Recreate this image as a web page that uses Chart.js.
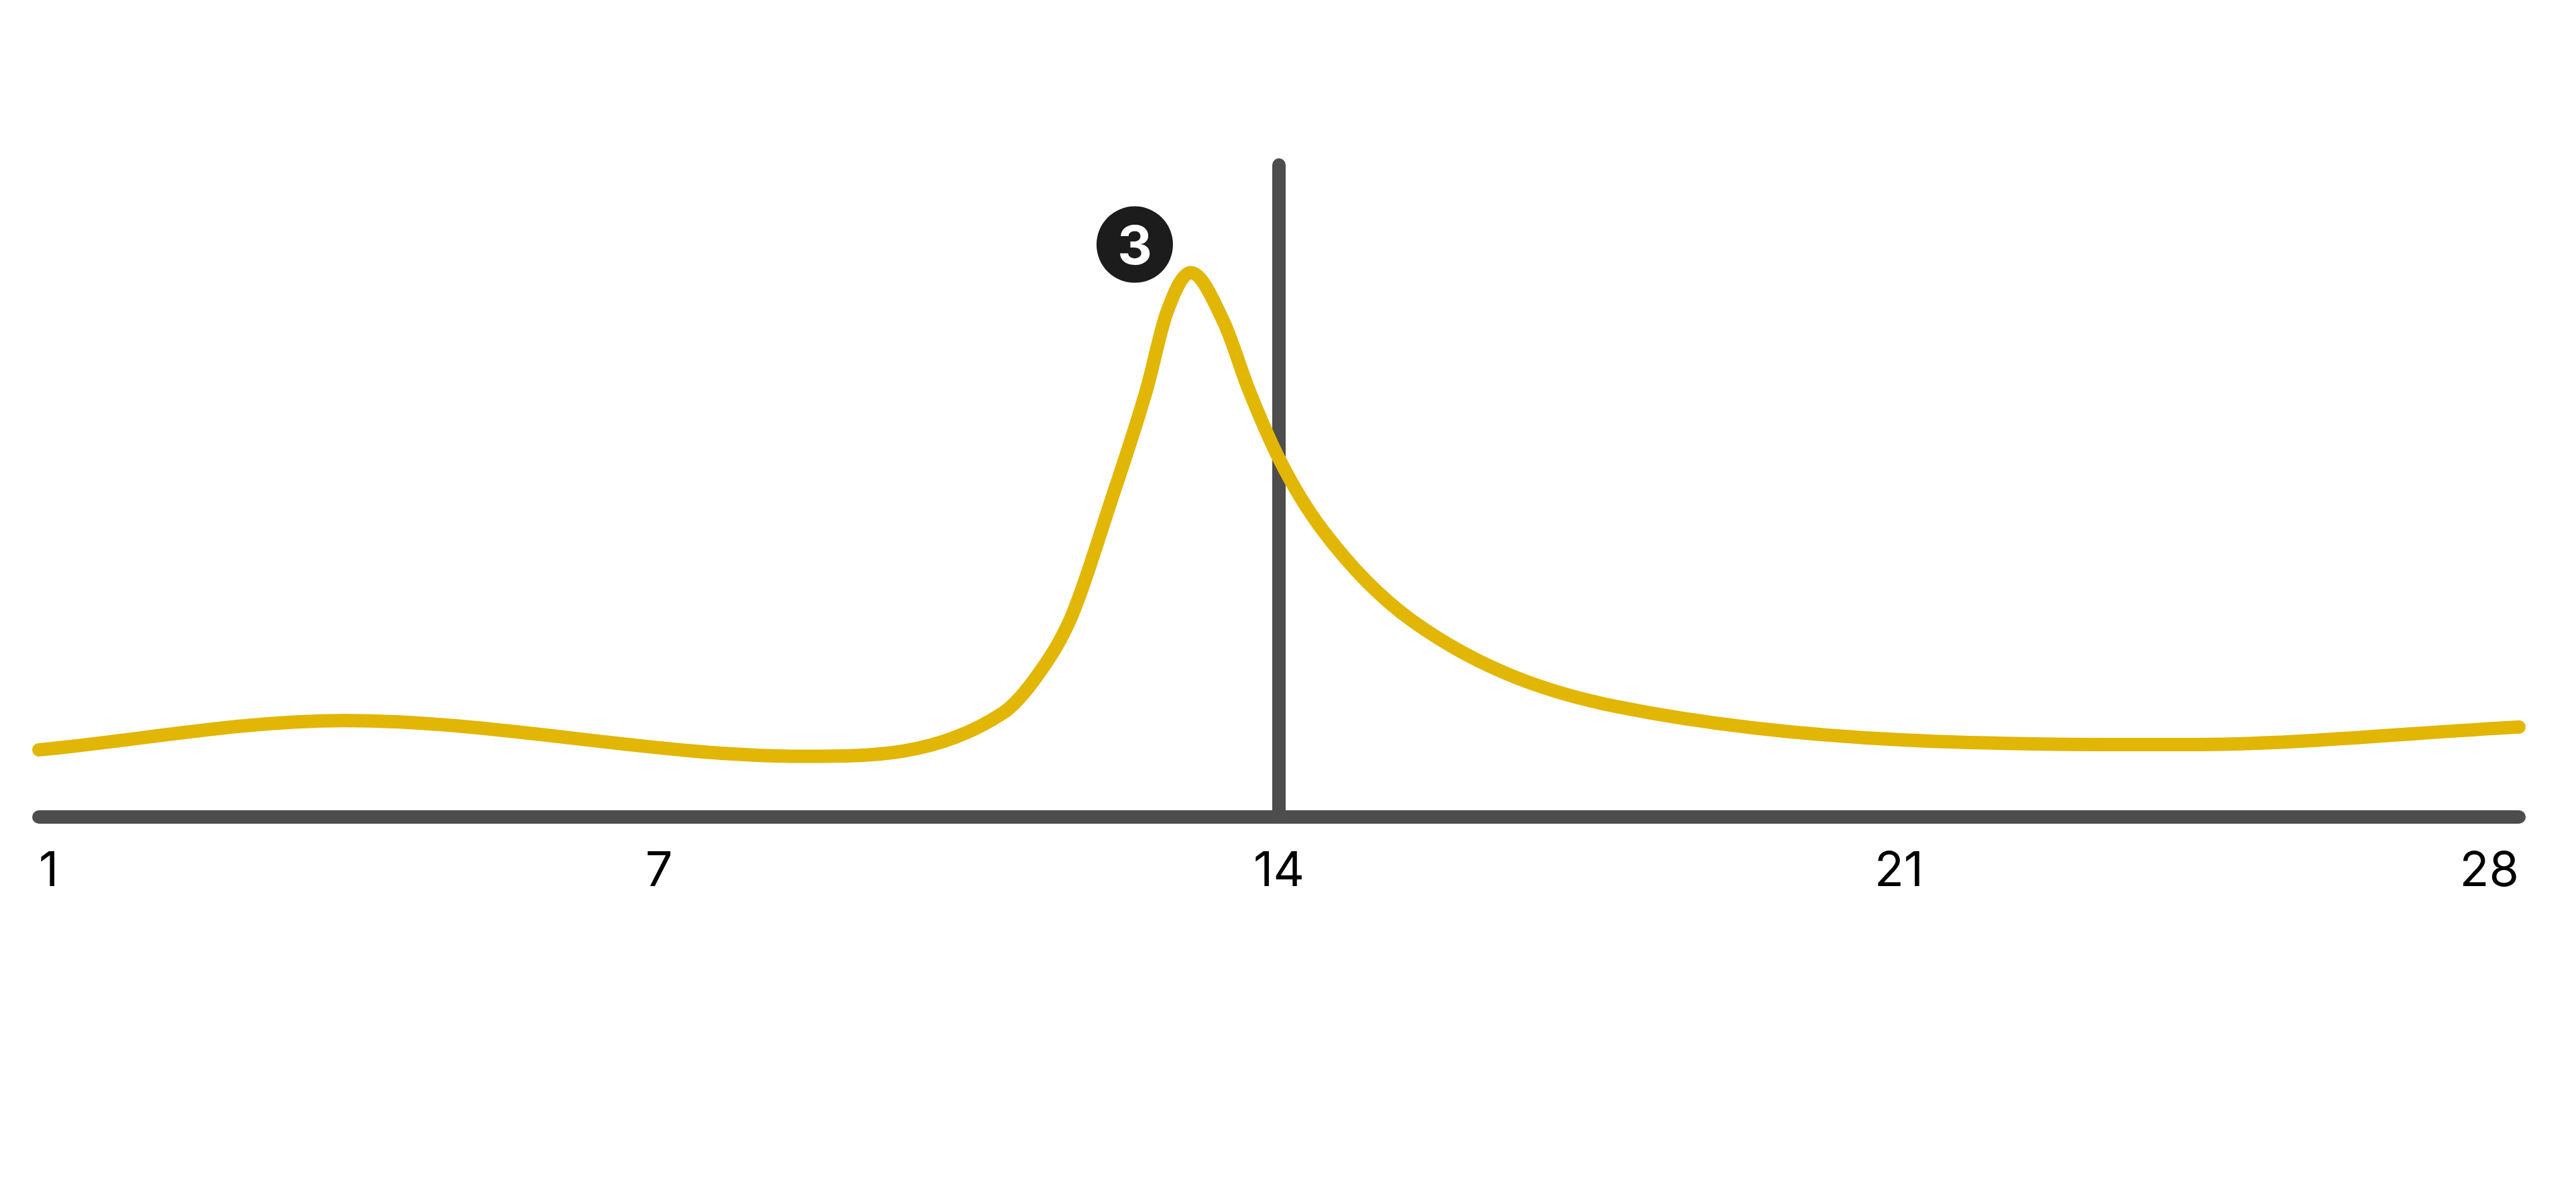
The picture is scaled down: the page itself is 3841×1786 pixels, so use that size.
<!DOCTYPE html>
<html>
<head>
<meta charset="utf-8">
<script src="https://cdn.jsdelivr.net/npm/chart.js@4/dist/chart.umd.min.js"></script>
<style>
html,body{margin:0;padding:0;background:#ffffff;overflow:hidden}
canvas{display:block}
</style>
</head>
<body>
<canvas id="c" width="3841" height="1786"></canvas>
<script>
// ---- data ----
const tickLabels = ['1', '7', '14', '21', '28'];
const dayMin = 1;
const dayMax = 28;
const valueMax = 100;
const curveDays   = [1.0, 4.33, 9.34, 11.49, 11.88, 12.24, 12.67, 13.06, 13.28, 13.54, 13.90, 14.17, 14.51, 14.97, 15.96, 18.19, 24.37, 28.0];
const curveValues = [10.3, 14.8, 9.3, 15.9, 21.9, 30.7, 48.4, 65.6, 77.4, 83.5, 75.9, 65.6, 54.7, 44.1, 30.0, 16.9, 11.1, 13.8];
const markerDay = 14.5;
const badgeDay = 12.93;
const badgeValue = 87.8;
const badgeText = '3';

// ---- style ----
const lineColor = '#E2B605';
const axisColor = '#4D4D4D';
const badgeColor = '#1C1C1C';

const curveData = curveDays.map((d, i) => ({ x: d, y: curveValues[i] }));

const badgeLabel = {
  id: 'badgeLabel',
  afterDatasetsDraw(chart) {
    const meta = chart.getDatasetMeta(3);
    const pt = meta.data[0];
    if (!pt) return;
    const ctx = chart.ctx;
    ctx.save();
    ctx.fillStyle = '#FFFFFF';
    ctx.font = '700 80px Inter';
    ctx.textAlign = 'center';
    ctx.textBaseline = 'alphabetic';
    ctx.fillText(badgeText, pt.x, pt.y + 29);
    ctx.restore();
  }
};

const tickPad = 38;
const tickFont = 72;

new Chart(document.getElementById('c'), {
  type: 'line',
  data: {
    datasets: [
      {
        label: 'curve',
        data: curveData,
        borderColor: lineColor,
        borderWidth: 20,
        borderCapStyle: 'round',
        borderJoinStyle: 'round',
        cubicInterpolationMode: 'monotone',
        pointRadius: 0,
        fill: false,
        clip: false,
        order: 1
      },
      {
        label: 'marker',
        data: [{ x: markerDay, y: 0 }, { x: markerDay, y: valueMax }],
        borderColor: axisColor,
        borderWidth: 20,
        borderCapStyle: 'round',
        pointRadius: 0,
        fill: false,
        clip: false,
        order: 2
      },
      {
        label: 'axis',
        data: [{ x: dayMin, y: 0 }, { x: dayMax, y: 0 }],
        borderColor: axisColor,
        borderWidth: 20,
        borderCapStyle: 'round',
        pointRadius: 0,
        fill: false,
        clip: false,
        order: 3
      },
      {
        label: 'badge',
        data: [{ x: badgeDay, y: badgeValue }],
        showLine: false,
        pointRadius: 57,
        pointHoverRadius: 57,
        pointBackgroundColor: badgeColor,
        pointBorderWidth: 0,
        pointBorderColor: badgeColor,
        clip: false,
        order: 0
      }
    ]
  },
  options: {
    responsive: false,
    animation: false,
    events: [],
    layout: {
      padding: { left: 58, right: 85, top: 246, bottom: 1786 - 1217 - (tickPad + tickFont * 1.2) - 39 }
    },
    plugins: {
      legend: { display: false },
      tooltip: { enabled: false },
      title: { display: false }
    },
    scales: {
      x: { type: 'linear', min: dayMin, max: dayMax, display: false },
      x2: {
        type: 'category',
        labels: tickLabels,
        position: 'bottom',
        offset: false,
        grid: { display: false, drawTicks: false },
        border: { display: false },
        ticks: {
          align: 'inner',
          padding: tickPad,
          color: '#000000',
          autoSkip: false,
          maxRotation: 0,
          font: { family: 'Inter', size: tickFont, weight: '400' }
        }
      },
      y: { type: 'linear', min: 0, max: valueMax, display: false }
    }
  },
  plugins: [badgeLabel]
});
</script>
</body>
</html>
